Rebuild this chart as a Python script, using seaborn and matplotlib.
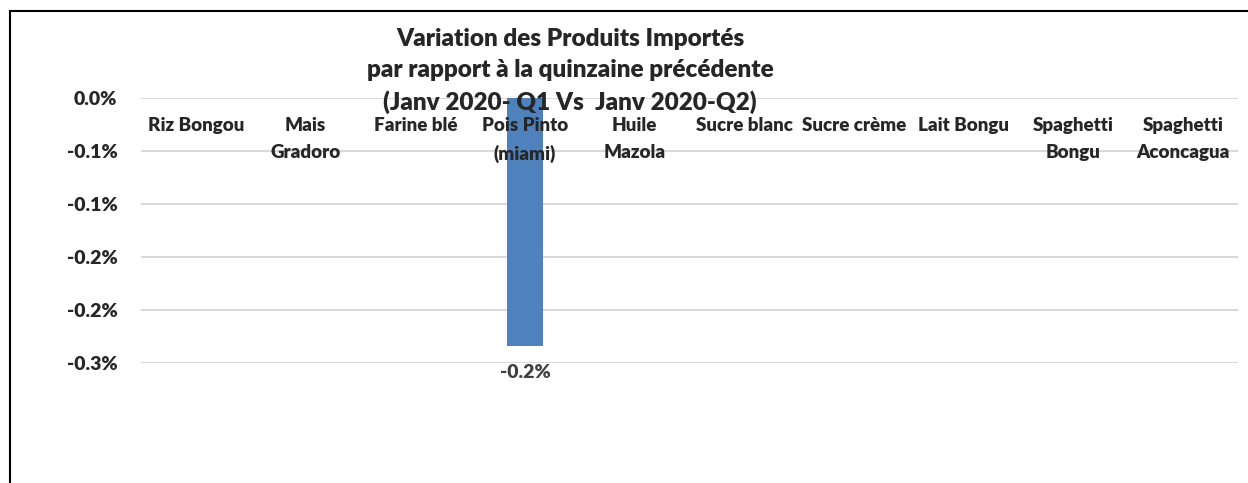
import matplotlib
matplotlib.use("Agg")
import matplotlib.pyplot as plt
import seaborn as sns
from matplotlib.patches import Rectangle

# Data
produits = ["Riz Bongou", "Mais\nGradoro", "Farine blé", "Pois Pinto\n(miami)",
            "Huile\nMazola", "Sucre blanc", "Sucre crème", "Lait Bongu",
            "Spaghetti\nBongu", "Spaghetti\nAconcagua"]
variation = [0, 0, 0, -0.00234, 0, 0, 0, 0, 0, 0]
y_ticks = [0, -0.0005, -0.0010, -0.0015, -0.0020, -0.0025]
y_tick_labels = ["0.0%", "-0.1%", "-0.1%", "-0.2%", "-0.2%", "-0.3%"]
titre = "Variation des Produits Importés\npar rapport à la quinzaine précédente\n(Janv 2020- Q1 Vs  Janv 2020-Q2)"

sns.set_style("white")
plt.rcParams["font.family"] = ["Lato", "DejaVu Sans"]

fig = plt.figure(figsize=(12.48, 4.83), dpi=100)
ax = fig.add_axes([0.113, 0.2484, 0.879, 0.5486])

sns.barplot(x=produits, y=variation, color="#4f81bd", width=0.32,
            saturation=1, linewidth=0, ax=ax)

ax.set_ylim(-0.0025, 0)
ax.set_yticks(y_ticks)
ax.set_yticklabels(y_tick_labels, fontsize=14, fontweight="heavy")
ax.grid(axis="y", color="#d9d9d9", linewidth=1.5)
ax.set_axisbelow(True)
for s in ax.spines.values():
    s.set_visible(False)
ax.tick_params(axis="y", length=0, pad=17)

# category labels sit just under the zero line, drawn over the bar
ax.xaxis.tick_top()
ax.xaxis.set_zorder(3)
ax.tick_params(axis="x", length=0, pad=-14)
for lab in ax.get_xticklabels():
    lab.set_verticalalignment("top")
    lab.set_fontsize(13.5)
    lab.set_fontweight("heavy")
    lab.set_multialignment("center")
    lab.set_linespacing(1.65)
ax.set_xlabel("")
ax.set_ylabel("")

# data label
for i, v in enumerate(variation):
    if v != 0:
        ax.annotate(f"{v * 100:.1f}%", (i, v), xytext=(0, -13),
                    textcoords="offset points", ha="center", va="top",
                    fontsize=14, fontweight="heavy", color="#404040")

fig.text(570 / 1248, 1 - 28 / 483, titre, ha="center", va="top",
         fontsize=17.5, fontweight="heavy", linespacing=1.5)

# chart frame (cropped on right and bottom)
fig.patches.append(Rectangle((10 / 1248, -0.1), 1.2, 1.1 - 11 / 483,
                             transform=fig.transFigure, fill=False,
                             edgecolor="black", linewidth=1.5))

fig.savefig("out.png", dpi=100)
